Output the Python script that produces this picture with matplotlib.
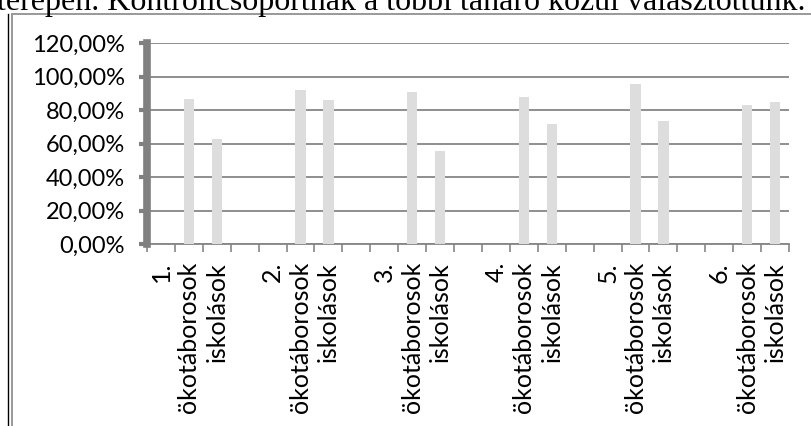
import matplotlib
matplotlib.use("Agg")
import matplotlib.pyplot as plt
from matplotlib.lines import Line2D
from matplotlib.ticker import FuncFormatter, FixedLocator

groups = ["1.", "2.", "3.", "4.", "5.", "6."]
series_labels = ["ökotáborosok", "iskolások"]
okotaborosok = [86.7, 91.9, 90.9, 87.9, 95.8, 82.7]
iskolasok = [62.8, 86.1, 55.6, 71.7, 73.5, 84.9]
y_ticks = [0, 20, 40, 60, 80, 100, 120]
header_text = "terepen. Kontrollcsoportnak a többi tanáró közül választottunk."

# Build category list: group label, ökotáborosok, iskolások, blank separator
categories = []
values = []
for i, g in enumerate(groups):
    categories += [g, series_labels[0], series_labels[1]]
    values += [None, okotaborosok[i], iskolasok[i]]
    if i < len(groups) - 1:
        categories.append("")
        values.append(None)

W, H = 812, 426
fig = plt.figure(figsize=(W / 100, H / 100), dpi=100)
fig.patch.set_facecolor("white")

ax = fig.add_axes([147 / W, 1 - 244 / H, (789 - 147) / W, (244 - 43) / H])
n = len(categories)
xs = [i for i, v in enumerate(values) if v is not None]
hs = [v for v in values if v is not None]
ax.bar(xs, hs, width=0.37, color="#DDDDDD", zorder=3)

ax.set_xlim(-0.5, n - 0.5)
ax.set_ylim(0, 120)
ax.set_yticks(y_ticks)
ax.yaxis.set_major_formatter(FuncFormatter(lambda v, p: f"{v:.2f}".replace(".", ",") + "%"))
ax.grid(axis="y", color="#868686", linewidth=1.3, zorder=1)
ax.set_axisbelow(True)

ax.xaxis.set_major_locator(FixedLocator([i - 0.5 for i in range(n + 1)]))
ax.xaxis.set_major_formatter(FuncFormatter(lambda v, p: ""))
ax.xaxis.set_minor_locator(FixedLocator(list(range(n))))
ax.set_xticklabels(categories, minor=True)
ax.tick_params(axis="x", which="major", length=5.5, width=1.2, color="#868686", direction="out")
ax.tick_params(axis="x", which="minor", length=0, pad=13)
for lab in ax.get_xticklabels(minor=True):
    lab.set_rotation(90)
    lab.set_va("top")
    lab.set_ha("center")
    lab.set_fontfamily("Lato")
    lab.set_fontsize(18)
    lab.set_color("black")

ax.tick_params(axis="y", length=6, width=3, color="#808080", pad=10, labelsize=17)
for lab in ax.get_yticklabels():
    lab.set_fontfamily("Lato")

for s in ["top", "right"]:
    ax.spines[s].set_visible(False)
ax.spines["left"].set_color("#808080")
ax.spines["left"].set_linewidth(5.5)
ax.spines["left"].set_zorder(5)
ax.spines["bottom"].set_color("#868686")
ax.spines["bottom"].set_linewidth(1.3)

# frame around chart
def px(x, y):
    return x / W, 1 - y / H
x0, y0 = px(8, 14)
x1, y1 = px(8, 426)
fig.add_artist(Line2D([x0, x1], [y0, y1], color="black", linewidth=1.0, transform=fig.transFigure))
x0, y0 = px(12, 14)
x1, y1 = px(12, 426)
fig.add_artist(Line2D([x0, x1], [y0, y1], color="#999999", linewidth=1.4, transform=fig.transFigure))
x0, y0 = px(12, 13.5)
x1, y1 = px(812, 13.5)
fig.add_artist(Line2D([x0, x1], [y0, y1], color="#999999", linewidth=1.4, transform=fig.transFigure))

# header text cut at top (as in the reference)
tx, ty = px(-3, 10)
fig.text(tx, ty, header_text, fontfamily="Liberation Serif", fontsize=23,
         ha="left", va="baseline", color="black")

fig.savefig("out.png", dpi=100)
